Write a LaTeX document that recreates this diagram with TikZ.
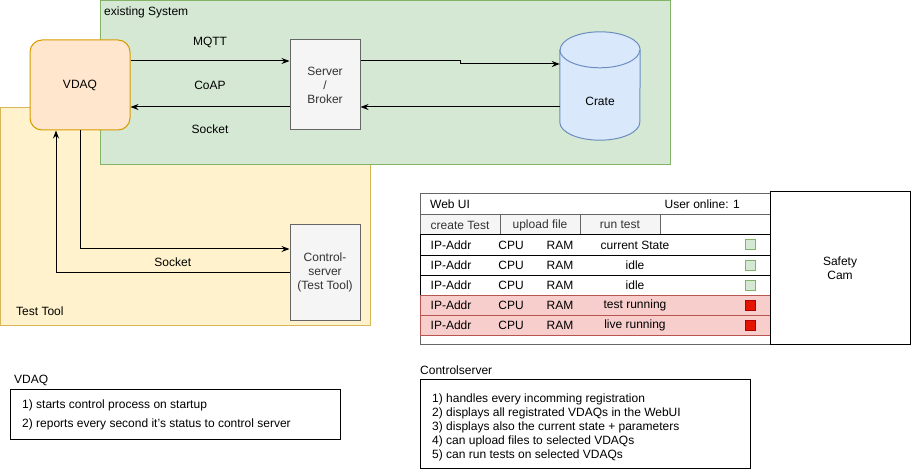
\documentclass[tikz,border=0pt]{standalone}
\usepackage{fontspec}
\setmainfont{Liberation Sans}
\usetikzlibrary{arrows.meta}

\definecolor{sysfill}{HTML}{D5E8D4}
\definecolor{sysline}{HTML}{82B366}
\definecolor{toolfill}{HTML}{FFF2CC}
\definecolor{toolline}{HTML}{D6B656}
\definecolor{vdaqfill}{HTML}{FFE6CC}
\definecolor{vdaqline}{HTML}{D79B00}
\definecolor{grayfill}{HTML}{F5F5F5}
\definecolor{grayline}{HTML}{666666}
\definecolor{graytext}{HTML}{333333}
\definecolor{cratefill}{HTML}{DAE8FC}
\definecolor{crateline}{HTML}{6C8EBF}
\definecolor{busyfill}{HTML}{F8CECC}
\definecolor{busyline}{HTML}{B85450}
\definecolor{ledred}{HTML}{E51400}
\definecolor{ledredline}{HTML}{B20000}

\tikzset{
  txt/.style={font=\fontsize{12}{14}\selectfont, inner sep=0pt, align=center},
  zone/.style={inner sep=0pt, line width=1pt},
  procbox/.style={txt, draw=grayline, fill=grayfill, text=graytext, line width=1pt, minimum width=70pt},
  flow/.style={-{Stealth[length=8pt,width=6pt]}, line width=1pt},
  cell/.style={draw=grayline, line width=1pt, inner sep=0pt, minimum width=350pt, minimum height=20pt},
  btn/.style={txt, draw=grayline, fill=grayfill, text=graytext, line width=1pt, minimum width=80pt, minimum height=20pt},
  rowok/.style={cell, draw=black, fill=white},
  rowbusy/.style={cell, draw=busyline, fill=busyfill},
  ledok/.style={draw=sysline, fill=sysfill, line width=1pt, minimum size=10pt, inner sep=0pt},
  ledbusy/.style={draw=ledredline, fill=ledred, line width=1pt, minimum size=10pt, inner sep=0pt},
  notebox/.style={draw=black, line width=1pt, inner sep=0pt},
  note/.style={txt, align=left, anchor=west},
  dbline/.style={draw=crateline, line width=1pt}
}

\begin{document}
\begin{tikzpicture}[x=1pt,y=-1pt]
\useasboundingbox (0,0) rectangle (912,470);

% Groups
\node[zone, draw=toolline, fill=toolfill, minimum width=370pt, minimum height=217pt] (testtool) at (185,216.5) {};
\node[zone, draw=sysline, fill=sysfill, minimum width=570pt, minimum height=164pt] (existing) at (385,83) {};
\node[txt, anchor=west] (existinglbl) at (104,12) {existing System};
\node[txt, anchor=west] (testtoollbl) at (16,311) {Test Tool};

% Components
\node[txt, draw=vdaqline, fill=vdaqfill, rounded corners=12pt, line width=1pt, minimum width=100pt, minimum height=90pt] (vdaq) at (80,85) {VDAQ};
\node[procbox, minimum height=90pt] (server) at (325,85) {Server\\/\\Broker};
\node[procbox, minimum height=95pt] (control) at (325,272.5) {Control-\\server\\(Test Tool)};

% Crate database
\node[inner sep=0pt, minimum width=80pt, minimum height=108pt] (crate) at (600,86) {};
\draw[dbline, fill=cratefill] ([yshift=-18pt]crate.north west) -- ([yshift=18pt]crate.south west)
    arc[start angle=180, end angle=360, x radius=40pt, y radius=18pt]
    -- ([yshift=-18pt]crate.north east)
    arc[start angle=0, end angle=180, x radius=40pt, y radius=18pt] -- cycle;
\draw[dbline] ([yshift=-18pt]crate.north west) arc[start angle=180, end angle=360, x radius=40pt, y radius=18pt];
\node[txt] (cratelbl) at ([yshift=-15pt]crate.center) {Crate};

% Protocol labels
\node[txt] (mqtt) at (210,42) {MQTT};
\node[txt] (coap) at (210,85) {CoAP};
\node[txt] (socket) at (210,129) {Socket};

% Connections
\draw[flow] ([yshift=24pt]vdaq.east) -- ([yshift=24pt]server.west);
\draw[flow] ([yshift=-22pt]server.west) -- ([yshift=-22pt]vdaq.east);
\draw[flow] ([yshift=24pt]server.east) -- ++(100,0) |- ([yshift=22pt]crate.west);
\draw[flow] ([yshift=-21pt]crate.west) -- ([yshift=-22pt]server.east);
\draw[flow] (vdaq.south) |- ([yshift=23.5pt]control.west);
\draw[flow] (control.west) -| ([xshift=-24pt]vdaq.south) node[txt, pos=0.25, above=5pt] (socketlbl) {Socket};

% Web UI
\node[cell, minimum height=150pt] (webui) at (595,269) {};
\node[cell, minimum height=21pt] (head) at (595,204.5) {};
\node[txt, anchor=west] (webtitle) at (430,204.5) {Web UI};
\node[txt, anchor=east] (online) at (740,204.5) {User online: 1};
\node[cell] (btnrow) at (595,225) {};
\foreach \j/\x/\t in {1/460/create Test, 2/540/upload file, 3/620/run test} {
    \node[btn] (btn\j) at (\x,225) {\t};
}
\foreach \i/\st/\rs/\ls in {1/current State/rowok/ledok, 2/idle/rowok/ledok, 3/idle/rowok/ledok, 4/test running/rowbusy/ledbusy, 5/live running/rowbusy/ledbusy} {
    \pgfmathsetmacro\y{225+20*\i}
    \node[\rs] (row\i) at (595,\y) {};
    \node[txt] (ip\i) at (451,\y) {IP-Addr};
    \node[txt] (cpu\i) at (511,\y) {CPU};
    \node[txt] (ram\i) at (560,\y) {RAM};
    \node[txt] (state\i) at (635,\y) {\st};
    \node[\ls] (led\i) at (750.5,\y) {};
}
\node[txt, draw=black, line width=1pt, minimum width=140pt, minimum height=152pt] (cam) at (840,268) {Safety\\Cam};

% Notes
\node[note] (vdaqtitle) at (14,380) {VDAQ};
\node[notebox, minimum width=330pt, minimum height=50pt] (vdaqnote) at (175,414) {};
\node[note, font=\fontsize{12}{19}\selectfont] (vdaqtext) at (22,414.5) {1) starts control process on startup\\2) reports every second it's status to control server};
\node[note] (ctrltitle) at (420,370) {Controlserver};
\node[notebox, minimum width=330pt, minimum height=89pt] (ctrlnote) at (585,423.5) {};
\node[note] (ctrltext) at (432,427) {1) handles every incomming registration\\2) displays all registrated VDAQs in the WebUI\\3) displays also the current state + parameters\\4) can upload files to selected VDAQs\\5) can run tests on selected VDAQs};
\end{tikzpicture}
\end{document}
